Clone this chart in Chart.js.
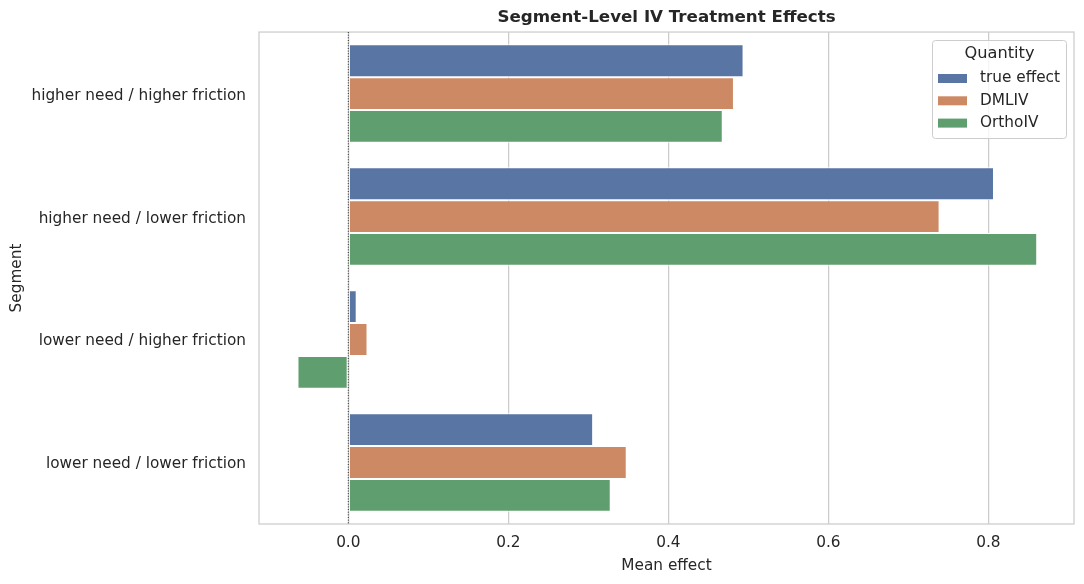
<!DOCTYPE html>
<html><head><meta charset="utf-8">
<script src="https://cdn.jsdelivr.net/npm/chart.js@4.4.1/dist/chart.umd.min.js"></script>
<style>html,body{margin:0;padding:0;background:#fff}#wrap{width:1084px;height:584px}</style>
</head><body><div id="wrap"><canvas id="c" width="1084" height="584"></canvas></div>
<script>
const categories = ["higher need / higher friction","higher need / lower friction","lower need / higher friction","lower need / lower friction"];
const seriesNames = ["true effect","DMLIV","OrthoIV"];
const trueEffect = [0.494, 0.807, 0.0105, 0.306];
const dmliv = [0.482, 0.739, 0.024, 0.348];
const orthoiv = [0.468, 0.861, -0.0635, 0.328];
const colors = ["#5875a4","#cc8963","#5f9e6e"];
const xTicks = [0.0,0.2,0.4,0.6,0.8];

const FONT = "'DejaVu Sans', sans-serif";
const TXT = "#262626";

const boxPlugin = {
  id:'boxPlugin',
  beforeDatasetsDraw(chart){
    const {ctx, chartArea:a} = chart;
    ctx.save();
    ctx.strokeStyle = '#cccccc'; ctx.lineWidth = 1.25;
    ctx.strokeRect(a.left, a.top, a.right-a.left, a.bottom-a.top);
    ctx.restore();
  },
  afterDatasetsDraw(chart){
    const {ctx, chartArea:a, scales} = chart;
    const x0 = scales.x.getPixelForValue(0);
    ctx.save();
    ctx.strokeStyle = '#262626'; ctx.lineWidth = 1;
    ctx.setLineDash([1,1.65]);
    ctx.beginPath(); ctx.moveTo(x0, a.top); ctx.lineTo(x0, a.bottom); ctx.stroke();
    ctx.restore();
    // legend
    const lx = 932, ly = 40, lw = 134, lh = 98;
    ctx.save();
    ctx.fillStyle = 'rgba(255,255,255,0.8)';
    ctx.strokeStyle = '#cccccc'; ctx.lineWidth = 1;
    ctx.beginPath();
    if (ctx.roundRect) ctx.roundRect(lx+0.5, ly+0.5, lw, lh, 3); else ctx.rect(lx+0.5, ly+0.5, lw, lh);
    ctx.fill(); ctx.stroke();
    ctx.fillStyle = TXT; ctx.textBaseline = 'middle';
    ctx.font = "16.2px " + FONT; ctx.textAlign = 'center';
    ctx.fillText('Quantity', lx + lw/2 + 0.5, 54);
    ctx.font = "15.3px " + FONT; ctx.textAlign = 'left';
    chart.data.datasets.forEach((ds, i) => {
      const y = 78.5 + i*22.3;
      ctx.fillStyle = ds.backgroundColor;
      ctx.fillRect(938, y-4.5, 29, 9);
      ctx.fillStyle = TXT;
      ctx.fillText(ds.label, 980, y);
    });
    ctx.restore();
  }
};

const seriesValues = [trueEffect, dmliv, orthoiv];
new Chart(document.getElementById('c'), {
  type:'bar',
  data:{
    labels:categories,
    datasets: seriesNames.map((n,i)=>({
      label:n, data:seriesValues[i], backgroundColor:colors[i],
      borderColor:'#ffffff', borderWidth:1, borderSkipped:false,
      categoryPercentage:0.8, barPercentage:1.0
    }))
  },
  options:{
    indexAxis:'y', responsive:false, animation:false,
    layout:{padding:{top:0,right:10,bottom:0,left:0}},
    plugins:{
      legend:{display:false}, tooltip:{enabled:false},
      title:{display:true, fullSize:false, text:'Segment-Level IV Treatment Effects', color:TXT,
        font:{family:FONT, size:16.7, weight:'bold'}, padding:{top:8,bottom:4}}
    },
    scales:{
      x:{min:-0.1116, max:0.907,
        afterBuildTicks(s){ s.ticks = xTicks.map(v=>({value:v})); },
        ticks:{color:TXT, font:{family:FONT,size:15.3}, padding:10, callback:(v)=>Number(v).toFixed(1)},
        grid:{color:'#cccccc', lineWidth:1.25, drawTicks:false},
        border:{display:false},
        title:{display:true, text:'Mean effect', color:TXT, font:{family:FONT,size:15.3}, padding:{top:4,bottom:9}},
        afterFit(s){ s.height = 60; }
      },
      y:{
        ticks:{color:TXT, font:{family:FONT,size:15.3}, padding:13, labelOffset:2},
        grid:{display:false, drawTicks:false},
        border:{display:false},
        title:{display:true, text:'Segment', color:TXT, font:{family:FONT,size:15.3}, padding:{top:8,bottom:0}},
        afterFit(s){ s.width = 259; }
      }
    }
  },
  plugins:[boxPlugin]
});
</script></body></html>
